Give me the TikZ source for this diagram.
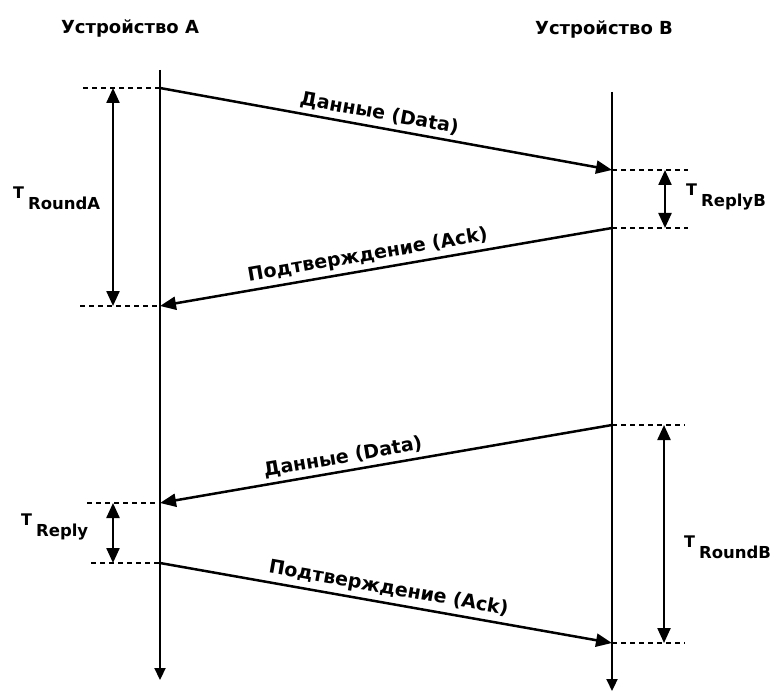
\documentclass[tikz,border=0pt]{standalone}
\usepackage{fontspec}
\setmainfont{DejaVu Sans}
\usetikzlibrary{arrows.meta}
\newcommand{\tsub}[1]{\raisebox{11pt}{\fontsize{16}{16}\selectfont T}\hspace{4pt}#1}
\begin{document}
\begin{tikzpicture}[x=1pt,y=-1pt,
  lifeline/.style={line width=2.2pt,-{Triangle[length=12pt,width=11pt]}},
  msg/.style={line width=2.5pt,-{Triangle[length=16pt,width=13pt]}},
  dim/.style={line width=2.3pt,{Triangle[length=15pt,width=13pt]}-{Triangle[length=15pt,width=13pt]}},
  guide/.style={line width=2pt,dash pattern=on 5pt off 4pt},
  title/.style={font=\bfseries\fontsize{18}{18}\selectfont},
  mlabel/.style={font=\bfseries\fontsize{19}{19}\selectfont,sloped,above,inner sep=4pt},
  tlabel/.style={font=\bfseries\fontsize{16.5}{16.5}\selectfont,inner sep=0pt,anchor=base west}]
\useasboundingbox (0,0) rectangle (775,692);
\fill[white] (0,0) rectangle (775,692);
% titles
\node[title] (tA) at (130,28) {Устройство A};
\node[title] (tB) at (604,29) {Устройство B};
% lifeline endpoints
\coordinate (A0) at (160,70);
\coordinate (Aend) at (160,680);
\coordinate (B0) at (612,92);
\coordinate (Bend) at (612,691);
\draw[lifeline] (A0) -- (Aend);
\draw[lifeline] (B0) -- (Bend);
% message points
\coordinate (a1) at (160,88);
\coordinate (b1) at (612,170);
\coordinate (b2) at (612,228);
\coordinate (a2) at (160,306);
\coordinate (b3) at (612,425);
\coordinate (a3) at (160,503);
\coordinate (a4) at (160,563);
\coordinate (b4) at (612,643);
% messages
\draw[msg] (a1) -- node[mlabel,pos=0.48] (m1) {Данные (Data)} (b1);
\draw[msg] (b2) -- node[mlabel,pos=0.535] (m2) {Подтверждение (Ack)} (a2);
\draw[msg] (b3) -- node[mlabel,pos=0.59] (m3) {Данные (Data)} (a3);
\draw[msg] (a4) -- node[mlabel,pos=0.5] (m4) {Подтверждение (Ack)} (b4);
% guide lines
\coordinate (g1) at (83,88);
\coordinate (g2) at (80,306);
\coordinate (g3) at (87,503);
\coordinate (g4) at (91,563);
\coordinate (g5) at (688,170);
\coordinate (g6) at (688,228);
\coordinate (g7) at (685,425);
\coordinate (g8) at (685,643);
\draw[guide] (g1) -- (a1);
\draw[guide] (g2) -- (a2);
\draw[guide] (g3) -- (a3);
\draw[guide] (g4) -- (a4);
\draw[guide] (b1) -- (g5);
\draw[guide] (b2) -- (g6);
\draw[guide] (b3) -- (g7);
\draw[guide] (b4) -- (g8);
% dimension arrows
\coordinate (d1s) at (113,88);
\coordinate (d1e) at (113,306);
\coordinate (d2s) at (665,170);
\coordinate (d2e) at (665,228);
\coordinate (d3s) at (113,503);
\coordinate (d3e) at (113,563);
\coordinate (d4s) at (664,425);
\coordinate (d4e) at (664,643);
\draw[dim] (d1s) -- (d1e);
\draw[dim] (d2s) -- (d2e);
\draw[dim] (d3s) -- (d3e);
\draw[dim] (d4s) -- (d4e);
% time labels
\node[tlabel] (L1) at (13,210) {\tsub{RoundA}};
\node[tlabel] (L2) at (686,207) {\tsub{ReplyB}};
\node[tlabel] (L3) at (21,536) {\tsub{Reply}};
\node[tlabel] (L4) at (684,558) {\tsub{RoundB}};
\end{tikzpicture}
\end{document}
